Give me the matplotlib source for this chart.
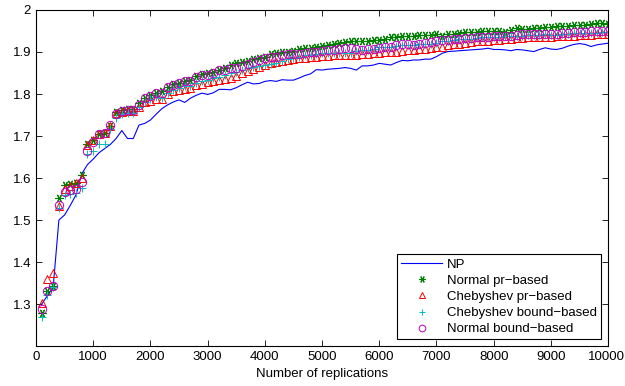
import numpy as np
import matplotlib
matplotlib.use("Agg")
import matplotlib.pyplot as plt
import matplotlib.transforms as mtransforms
from matplotlib.ticker import FuncFormatter

plt.rcParams['font.family'] = ['Liberation Sans', 'DejaVu Sans']

# number of replications: 100, 200, ..., 10000
reps = np.arange(100, 10001, 100)

np_vals = [
    1.300, 1.320, 1.340, 1.500, 1.512, 1.535, 1.560, 1.610, 1.632, 1.645,
    1.660, 1.670, 1.680, 1.694, 1.713, 1.694, 1.694, 1.726, 1.730, 1.738,
    1.752, 1.765, 1.774, 1.781, 1.786, 1.780, 1.790, 1.797, 1.802, 1.799,
    1.803, 1.811, 1.811, 1.810, 1.815, 1.822, 1.828, 1.824, 1.825, 1.830,
    1.832, 1.830, 1.834, 1.833, 1.833, 1.838, 1.844, 1.848, 1.858, 1.857,
    1.859, 1.860, 1.861, 1.863, 1.861, 1.857, 1.867, 1.867, 1.869, 1.873,
    1.871, 1.869, 1.875, 1.880, 1.879, 1.881, 1.881, 1.883, 1.883, 1.889,
    1.897, 1.901, 1.902, 1.903, 1.904, 1.905, 1.906, 1.907, 1.909, 1.906,
    1.906, 1.905, 1.903, 1.906, 1.905, 1.903, 1.901, 1.906, 1.910, 1.907,
    1.906, 1.909, 1.914, 1.918, 1.920, 1.918, 1.913, 1.917, 1.919, 1.921]

normal_pr = [
    1.278, 1.332, 1.343, 1.552, 1.584, 1.585, 1.587, 1.607, 1.680, 1.690,
    1.705, 1.706, 1.724, 1.757, 1.761, 1.764, 1.764, 1.778, 1.790, 1.798,
    1.803, 1.806, 1.817, 1.824, 1.827, 1.832, 1.834, 1.843, 1.847, 1.849,
    1.853, 1.857, 1.861, 1.870, 1.873, 1.875, 1.878, 1.883, 1.885, 1.888,
    1.895, 1.898, 1.900, 1.901, 1.903, 1.906, 1.909, 1.910, 1.912, 1.914,
    1.917, 1.919, 1.922, 1.923, 1.925, 1.926, 1.927, 1.927, 1.928, 1.929,
    1.932, 1.935, 1.936, 1.937, 1.938, 1.939, 1.940, 1.940, 1.940, 1.944,
    1.937, 1.944, 1.944, 1.946, 1.948, 1.948, 1.948, 1.950, 1.951, 1.951,
    1.950, 1.948, 1.953, 1.956, 1.954, 1.955, 1.956, 1.958, 1.959, 1.960,
    1.961, 1.962, 1.963, 1.964, 1.964, 1.965, 1.967, 1.968, 1.970, 1.967]

cheb_pr = [
    1.303, 1.359, 1.375, 1.533, 1.574, 1.580, 1.588, 1.600, 1.678, 1.690,
    1.704, 1.706, 1.724, 1.754, 1.758, 1.760, 1.760, 1.770, 1.782, 1.784,
    1.787, 1.787, 1.800, 1.806, 1.810, 1.811, 1.814, 1.821, 1.824, 1.829,
    1.832, 1.833, 1.836, 1.838, 1.843, 1.849, 1.854, 1.859, 1.864, 1.868,
    1.873, 1.876, 1.879, 1.881, 1.883, 1.885, 1.886, 1.888, 1.889, 1.890,
    1.891, 1.892, 1.893, 1.893, 1.894, 1.894, 1.895, 1.896, 1.897, 1.898,
    1.899, 1.900, 1.901, 1.903, 1.905, 1.905, 1.906, 1.908, 1.909, 1.911,
    1.913, 1.916, 1.918, 1.920, 1.921, 1.923, 1.925, 1.926, 1.927, 1.928,
    1.929, 1.930, 1.931, 1.933, 1.934, 1.935, 1.935, 1.935, 1.935, 1.936,
    1.937, 1.937, 1.938, 1.939, 1.940, 1.940, 1.941, 1.942, 1.942, 1.943]

cheb_bound = [
    1.268, 1.321, 1.341, 1.528, 1.560, 1.562, 1.565, 1.576, 1.658, 1.664,
    1.681, 1.681, 1.716, 1.744, 1.752, 1.755, 1.755, 1.770, 1.782, 1.787,
    1.792, 1.790, 1.803, 1.810, 1.815, 1.818, 1.820, 1.826, 1.830, 1.834,
    1.837, 1.841, 1.845, 1.849, 1.853, 1.857, 1.861, 1.865, 1.867, 1.869,
    1.871, 1.873, 1.878, 1.883, 1.886, 1.889, 1.892, 1.894, 1.896, 1.897,
    1.898, 1.898, 1.898, 1.897, 1.898, 1.903, 1.905, 1.905, 1.908, 1.911,
    1.912, 1.913, 1.915, 1.917, 1.917, 1.917, 1.920, 1.920, 1.920, 1.922,
    1.925, 1.927, 1.929, 1.930, 1.931, 1.932, 1.933, 1.935, 1.935, 1.935,
    1.936, 1.937, 1.937, 1.938, 1.939, 1.940, 1.940, 1.941, 1.942, 1.941,
    1.940, 1.942, 1.944, 1.945, 1.945, 1.945, 1.946, 1.946, 1.947, 1.947]

normal_bound = [
    1.287, 1.330, 1.343, 1.536, 1.567, 1.571, 1.575, 1.591, 1.665, 1.686,
    1.704, 1.707, 1.726, 1.752, 1.760, 1.763, 1.763, 1.775, 1.790, 1.796,
    1.803, 1.803, 1.817, 1.822, 1.827, 1.832, 1.832, 1.841, 1.845, 1.846,
    1.851, 1.856, 1.858, 1.861, 1.863, 1.866, 1.871, 1.877, 1.882, 1.885,
    1.887, 1.889, 1.892, 1.895, 1.896, 1.896, 1.897, 1.899, 1.901, 1.903,
    1.905, 1.904, 1.908, 1.909, 1.909, 1.907, 1.905, 1.906, 1.907, 1.909,
    1.911, 1.913, 1.916, 1.919, 1.918, 1.917, 1.920, 1.922, 1.924, 1.926,
    1.928, 1.929, 1.930, 1.931, 1.933, 1.934, 1.935, 1.935, 1.936, 1.937,
    1.937, 1.938, 1.939, 1.940, 1.942, 1.942, 1.942, 1.943, 1.944, 1.944,
    1.943, 1.945, 1.946, 1.947, 1.948, 1.948, 1.949, 1.950, 1.951, 1.951]

fig = plt.figure(figsize=(6.25, 3.86), dpi=100)
ax = fig.add_axes([0.0576, 0.1036, 0.9154, 0.8705])

ax.plot(reps, np_vals, color='#0000ff', lw=0.8, label='NP')
ax.plot(reps, normal_pr, ls='none', marker=(6, 2, 90), ms=6, color='#008000',
        mew=0.8, label='Normal pr\u2212based')
ax.plot(reps, cheb_pr, ls='none', marker='^', ms=6, mfc='none', mec='#ff0000',
        mew=0.7, label='Chebyshev pr\u2212based')
ax.plot(reps, cheb_bound, ls='none', marker='+', ms=6, color='#00bfbf',
        mew=0.7, label='Chebyshev bound\u2212based')
ax.plot(reps, normal_bound, ls='none', marker='o', ms=6, mfc='none', mec='#bf00bf',
        mew=0.7, label='Normal bound\u2212based')

ax.set_xlim(0, 10000)
ax.set_ylim(1.2, 2.0)
ax.set_xticks(np.arange(0, 10001, 1000))
ax.set_yticks(np.arange(1.3, 2.001, 0.1))
ax.yaxis.set_major_formatter(FuncFormatter(lambda v, p: f'{v:g}' if abs(v - 2) > 1e-9 else '2'))
ax.tick_params(direction='in', top=True, right=True, labelsize=9.5, length=4, width=0.6)
for s in ax.spines.values():
    s.set_linewidth(0.8)
ax.set_xlabel('Number of replications', fontsize=9.5, labelpad=4)

# keep the last x tick label inside the figure
last = ax.get_xticklabels()[-1]
last.set_transform(last.get_transform() +
                   mtransforms.ScaledTranslation(-2 / 100, 0, fig.dpi_scale_trans))

leg = ax.legend(loc='lower right', bbox_to_anchor=(0.988, 0.02), fontsize=9.5,
                frameon=True, fancybox=False, edgecolor='black', framealpha=1,
                borderpad=0.3, labelspacing=0.3, handlelength=3.1,
                handletextpad=0.4, borderaxespad=0, markerscale=0.8)
leg.get_frame().set_linewidth(0.8)

fig.savefig('out.png', dpi=100)
